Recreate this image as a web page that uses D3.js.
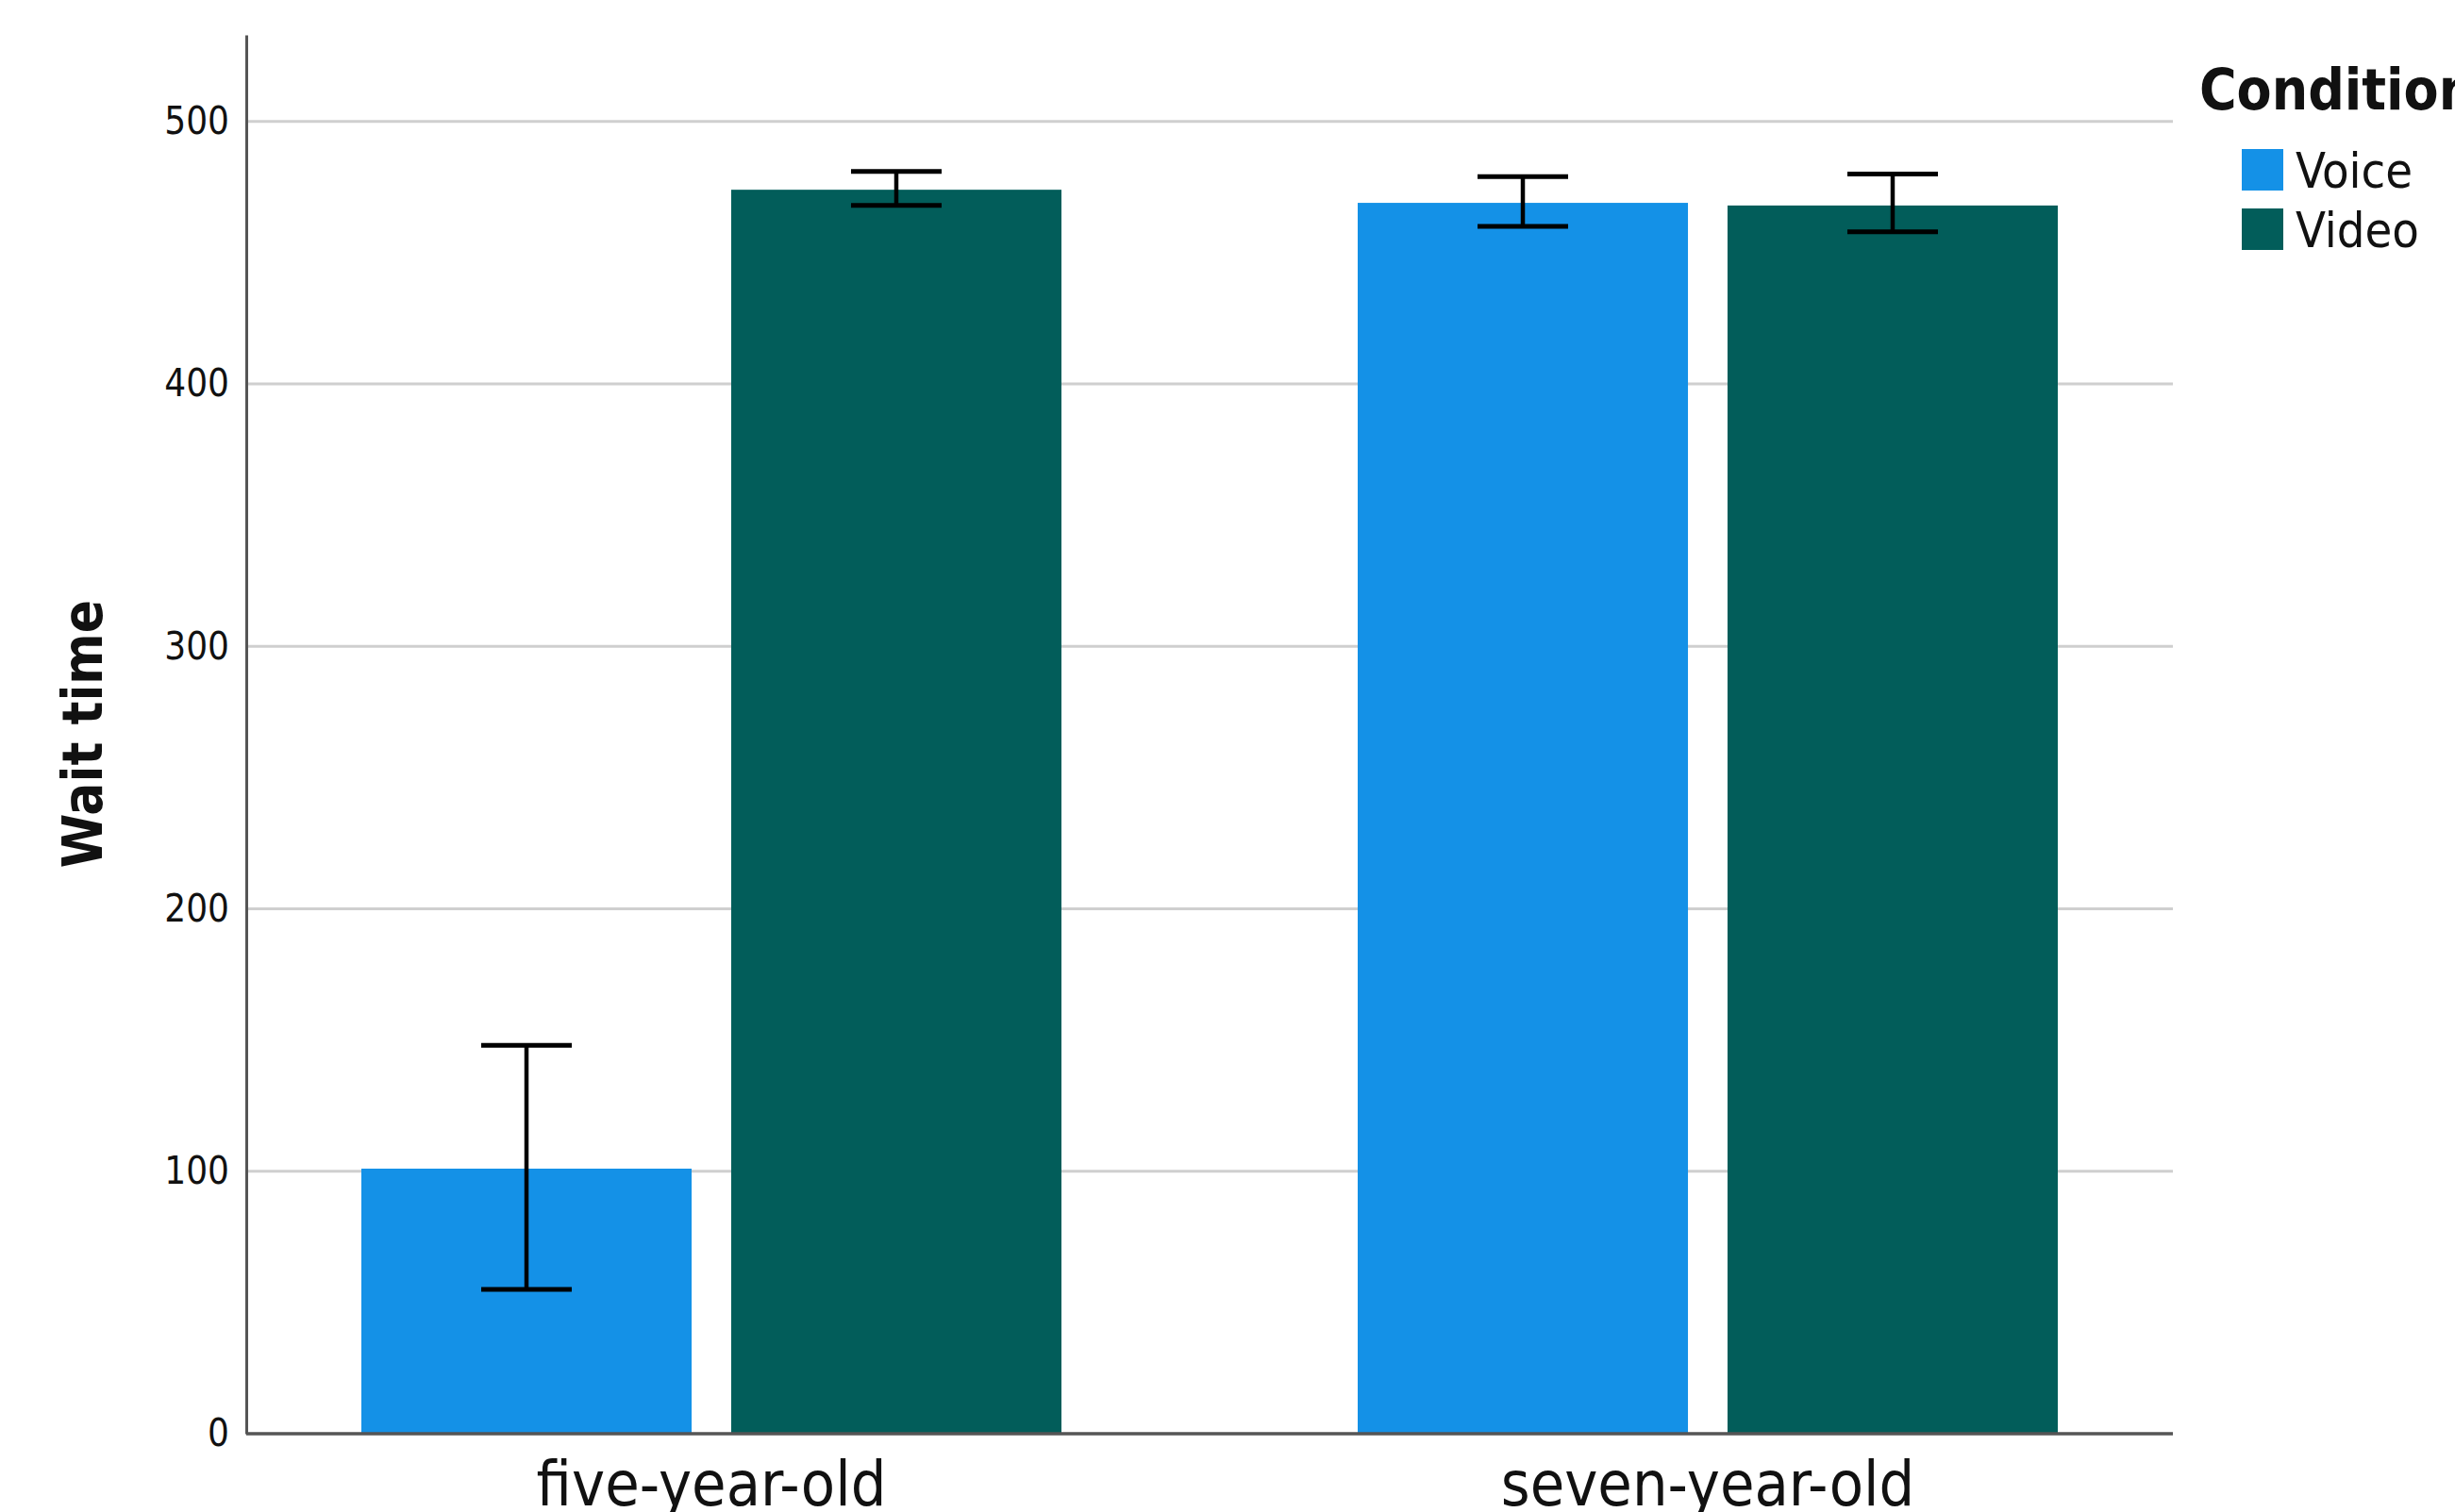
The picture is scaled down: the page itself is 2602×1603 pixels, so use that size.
<!DOCTYPE html>
<html>
<head>
<meta charset="utf-8">
<script src="https://d3js.org/d3.v7.min.js"></script>
<style>
  html, body { margin: 0; padding: 0; background: #ffffff; }
  svg { display: block; }
  text { font-family: "DejaVu Sans Condensed", "DejaVu Sans", sans-serif; font-stretch: condensed; fill: #111; }
</style>
</head>
<body>
<svg id="chart" width="2602" height="1603"></svg>
<script>
// Age groups on the x axis and the two conditions within each group
const categories = ["five-year-old", "seven-year-old"];
const conditions = ["Voice", "Video"];

// Mean wait time per age group, one array per condition
const voiceMeans = [101, 469];
const videoMeans = [474, 468];

// Error bar ends (lower / upper) per age group
const voiceLow = [55, 460];
const voiceHigh = [148, 479];
const videoLow = [468, 458];
const videoHigh = [481, 480];

// Y axis ticks
const yTicks = [0, 100, 200, 300, 400, 500];

const colors = { Voice: "#1491E7", Video: "#025D5A" };

const rows = categories.map((c, i) => ({
  category: c,
  values: [
    { cond: "Voice", mean: voiceMeans[i], lo: voiceLow[i], hi: voiceHigh[i] },
    { cond: "Video", mean: videoMeans[i], lo: videoLow[i], hi: videoHigh[i] }
  ]
}));

const svg = d3.select("#chart");

const plot = { left: 261, right: 2303, top: 37, bottom: 1520 };

const y = d3.scaleLinear().domain([0, 533]).range([plot.bottom, plot.top]);

const x0 = d3.scaleBand().domain(categories).range([226, 2338]).paddingInner(0).paddingOuter(0);
const groupWidth = 742;
const x1 = d3.scaleBand().domain(conditions).range([0, groupWidth]).paddingInner(0.107).paddingOuter(0);

// Horizontal gridlines
svg.append("g")
  .selectAll("line")
  .data(yTicks.filter(t => t > 0))
  .join("line")
  .attr("x1", plot.left)
  .attr("x2", plot.right)
  .attr("y1", d => y(d))
  .attr("y2", d => y(d))
  .attr("stroke", "#cfcfcf")
  .attr("stroke-width", 3);

// Bars
const groups = svg.append("g")
  .selectAll("g")
  .data(rows)
  .join("g")
  .attr("transform", d => `translate(${x0(d.category) + x0.bandwidth() / 2 - groupWidth / 2},0)`);

groups.selectAll("rect")
  .data(d => d.values)
  .join("rect")
  .attr("x", d => x1(d.cond))
  .attr("width", x1.bandwidth())
  .attr("y", d => y(d.mean))
  .attr("height", d => y(0) - y(d.mean))
  .attr("fill", d => colors[d.cond]);

// Error bars
const capHalf = 48;
const eb = groups.selectAll("g.err")
  .data(d => d.values)
  .join("g")
  .attr("class", "err")
  .attr("transform", d => `translate(${x1(d.cond) + x1.bandwidth() / 2},0)`);

eb.append("line")
  .attr("x1", 0).attr("x2", 0)
  .attr("y1", d => y(d.lo)).attr("y2", d => y(d.hi))
  .attr("stroke", "#000").attr("stroke-width", 4.5);
eb.append("line")
  .attr("x1", -capHalf).attr("x2", capHalf)
  .attr("y1", d => y(d.hi)).attr("y2", d => y(d.hi))
  .attr("stroke", "#000").attr("stroke-width", 5);
eb.append("line")
  .attr("x1", -capHalf).attr("x2", capHalf)
  .attr("y1", d => y(d.lo)).attr("y2", d => y(d.lo))
  .attr("stroke", "#000").attr("stroke-width", 5);

// Y axis
const yAxis = d3.axisLeft(y).tickValues(yTicks).tickSize(0).tickPadding(18).tickFormat(d3.format("d"));
const gy = svg.append("g").attr("transform", `translate(${plot.left},0)`).call(yAxis);
gy.select(".domain").attr("stroke", "#555").attr("stroke-width", 3);
gy.selectAll("text")
  .attr("font-size", 40)
  .style("font-family", "'DejaVu Sans Condensed', 'DejaVu Sans', sans-serif")
  .attr("fill", "#111");

// X axis line
svg.append("line")
  .attr("x1", plot.left).attr("x2", plot.right)
  .attr("y1", plot.bottom).attr("y2", plot.bottom)
  .attr("stroke", "#555").attr("stroke-width", 3.5);

// X category labels
svg.append("g")
  .selectAll("text")
  .data(categories)
  .join("text")
  .attr("x", d => x0(d) + x0.bandwidth() / 2)
  .attr("y", 1596)
  .attr("text-anchor", "middle")
  .attr("font-size", 66)
  .text(d => d);

// Y axis title
svg.append("text")
  .attr("transform", "translate(108,778) rotate(-90)")
  .attr("text-anchor", "middle")
  .attr("font-size", 58)
  .attr("font-weight", "bold")
  .text("Wait time");

// Legend
const legend = svg.append("g");
legend.append("text")
  .attr("x", 2331).attr("y", 116)
  .attr("font-size", 60)
  .attr("font-weight", "bold")
  .text("Condition");

const li = legend.selectAll("g.item")
  .data(conditions)
  .join("g")
  .attr("class", "item")
  .attr("transform", (d, i) => `translate(2376,${158 + i * 63})`);
li.append("rect")
  .attr("width", 44).attr("height", 44)
  .attr("fill", d => colors[d]);
li.append("text")
  .attr("x", 57).attr("y", 22)
  .attr("dy", "0.36em")
  .attr("font-size", 52)
  .text(d => d);
</script>
</body>
</html>
